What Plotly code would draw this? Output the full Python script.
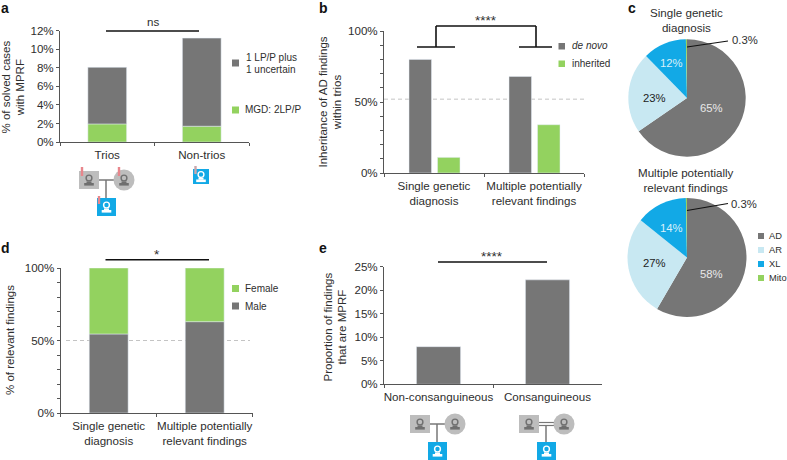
import plotly.graph_objects as go

W, H = 787, 460
GREY = "#767676"
GREEN = "#93d25f"
BLUE = "#12a9e6"
PALE = "#c8e8f2"
ICON = "#bdbdbd"
TXT = "#2e2e2e"
FONT = "Liberation Sans"

# panel a
a_cats = ["Trios", "Non-trios"]
a_mgd = [1.95, 1.7]
a_uncertain = [6.1, 9.5]
# panel b
b_cats = ["Single genetic<br>diagnosis", "Multiple potentially<br>relevant findings"]
b_denovo = [80, 68]
b_inherited = [11, 34]
# panel c
c_labels = ["AD", "AR", "XL", "Mito"]
c_single = [65.4, 22.3, 12.0, 0.3]
c_multiple = [58.4, 27.4, 13.9, 0.3]
c_colors = [GREY, PALE, BLUE, GREEN]
# panel d
d_cats = b_cats
d_male = [54.5, 63]
d_female = [45.5, 37]
# panel e
e_cats = ["Non-consanguineous", "Consanguineous"]
e_mprf = [8, 22.2]


def px(x):
    return x / W


def py(y):
    return 1 - y / H


shapes = []
notes = []


def line(x0, y0, x1, y1, color="#111111", width=1.6):
    shapes.append(dict(type="line", xref="paper", yref="paper", x0=px(x0), y0=py(y0),
                       x1=px(x1), y1=py(y1), line=dict(color=color, width=width)))


def box(x0, y0, x1, y1, color):
    shapes.append(dict(type="rect", xref="paper", yref="paper", x0=px(x0), y0=py(y0),
                       x1=px(x1), y1=py(y1), fillcolor=color, line_width=0))


def disc(cx, cy, r, color):
    shapes.append(dict(type="circle", xref="paper", yref="paper", x0=px(cx - r), y0=py(cy - r),
                       x1=px(cx + r), y1=py(cy + r), fillcolor=color, line_width=0))


def text(x, y, s, size=11.6, color=TXT, anchor="center", **kw):
    notes.append(dict(xref="paper", yref="paper", x=px(x), y=py(y), text=s, showarrow=False,
                      xanchor=anchor, yanchor="middle", font=dict(size=size, color=color, family=FONT), **kw))


def person(cx, cy, color, bg):
    # ring head plus shoulders of the pedigree icons
    disc(cx, cy - 2, 3.6, color)
    disc(cx, cy - 2, 2.2, bg)
    box(cx - 4.8, cy + 3, cx + 4.8, cy + 5.6, color)
    box(cx - 2.5, cy + 1.4, cx + 2.5, cy + 3.2, color)


def father(x0, y0):
    box(x0, y0, x0 + 20, y0 + 18, ICON)
    person(x0 + 10, y0 + 9, "#6f6f6f", ICON)


def mother(cx, cy):
    disc(cx, cy, 10.5, ICON)
    person(cx, cy, "#6f6f6f", ICON)


def child(x0, y0, w=19, h=18):
    box(x0, y0, x0 + w, y0 + h, BLUE)
    person(x0 + w / 2, y0 + h / 2, "white", BLUE)


def flag(x, y0, y1, color="#e8868c"):
    line(x, y0, x, y1, color=color, width=2.4)


fig = go.Figure()

# a: stacked bars
fig.add_trace(go.Bar(x=a_cats, y=a_mgd, marker_color=GREEN, width=0.41, xaxis="x", yaxis="y"))
fig.add_trace(go.Bar(x=a_cats, y=a_uncertain, base=a_mgd, marker_color=GREY, width=0.41, xaxis="x", yaxis="y"))
# b: side by side bars
fig.add_trace(go.Bar(x=b_cats, y=b_denovo, marker_color=GREY, width=0.225, offset=-0.25, xaxis="x2", yaxis="y2"))
fig.add_trace(go.Bar(x=b_cats, y=b_inherited, marker_color=GREEN, width=0.225, offset=0.035, xaxis="x2", yaxis="y2"))
# d: stacked bars
fig.add_trace(go.Bar(x=d_cats, y=d_male, marker_color=GREY, width=0.405, xaxis="x3", yaxis="y3"))
fig.add_trace(go.Bar(x=d_cats, y=d_female, base=d_male, marker_color=GREEN, width=0.405, xaxis="x3", yaxis="y3"))
# e
fig.add_trace(go.Bar(x=e_cats, y=e_mprf, marker_color=GREY, width=0.405, xaxis="x4", yaxis="y4"))
# c: pies
for vals, cy, r in [(c_single, 98, 58.7), (c_multiple, 257.5, 59.5)]:
    fig.add_trace(go.Pie(labels=c_labels, values=vals, sort=False, direction="clockwise", rotation=0,
                         marker=dict(colors=c_colors, line_width=0), textinfo="none",
                         domain=dict(x=[px(687 - r), px(687 + r)], y=[py(cy + r), py(cy - r)])))

axis_line = "#555555"


def xax(x0, x1):
    return dict(domain=[px(x0), px(x1)], type="category", tickson="boundaries", ticks="outside",
                ticklen=3, tickcolor=axis_line, showline=True, linecolor=axis_line, linewidth=1, automargin=False,
                tickangle=0, ticklabelstandoff=2, range=[-0.5, 1.5], showgrid=False,
                tickfont=dict(size=11.6, color=TXT, family=FONT))


def yax(y0, y1, rng, dtick, minor=None):
    d = dict(domain=[py(y0), py(y1)], range=rng, dtick=dtick, ticks="outside", ticklen=3, tickcolor=axis_line,
             showline=True, linecolor=axis_line, linewidth=1, showgrid=False, ticksuffix="%", zeroline=False,
             automargin=False, tickfont=dict(size=11.6, color=TXT, family=FONT))
    if minor:
        d["minor"] = dict(dtick=minor, ticks="outside", ticklen=3, tickcolor=axis_line, showgrid=False)
    return d


layout_axes = dict(
    xaxis=dict(xax(60, 249), anchor="y"),
    yaxis=dict(yax(142, 30.7, [0, 12], 2), anchor="x"),
    xaxis2=dict(xax(384, 584), anchor="y2"),
    yaxis2=dict(yax(173, 31, [0, 100], 50, 10), anchor="x2"),
    xaxis3=dict(xax(60.7, 252.7), anchor="y3"),
    yaxis3=dict(yax(413, 268, [0, 100], 50, 10), anchor="x3"),
    xaxis4=dict(xax(384, 602), anchor="y4"),
    yaxis4=dict(yax(384.3, 266.7, [0, 25], 5), anchor="x4"),
)

# y axis titles
text(12.5, 87, "% of solved cases<br>with MPRF", size=11.5, textangle=-90)
text(329.5, 102, "Inheritance of AD findings<br>within trios", size=11.5, textangle=-90)
text(10, 340, "% of relevant findings", size=11.5, textangle=-90)
text(334.5, 327, "Proportion of findings<br>that are MPRF", size=11.5, textangle=-90)

# dashed reference lines, behind the bars
shapes.append(dict(type="line", xref="paper", yref="y2", x0=px(384), x1=px(587), y0=52, y1=52, layer="below",
                   line=dict(color="#c4c4c4", width=1, dash="4px,3px")))
shapes.append(dict(type="line", xref="paper", yref="y3", x0=px(66), x1=px(250), y0=50, y1=50, layer="below",
                   line=dict(color="#c4c4c4", width=1, dash="4px,3px")))

# panel letters
for s, x, y in [("a", 5, 8), ("b", 323, 8), ("c", 632, 8), ("d", 5, 248), ("e", 323, 248)]:
    text(x, y, "<b>%s</b>" % s, size=14, color="#111111")

# significance marks
line(106, 31, 199, 31)
text(153, 21.5, "ns")
line(436, 26, 536, 26)
line(436, 26, 436, 47)
line(536, 26, 536, 47)
line(417, 47, 455, 47)
line(519, 47, 552, 47)
text(486, 21, "****", size=13.5)
line(105.5, 259.7, 209, 259.7)
text(157, 254, "*", size=13.5)
line(438, 262, 547, 262)
text(492, 256, "****", size=13.5)

# legends
box(232, 59.5, 239, 66.5, GREY)
text(244, 58, "1 LP/P plus", size=10, anchor="left")
text(244, 69, "1 uncertain", size=10, anchor="left")
box(232, 106.5, 239, 113.5, GREEN)
text(243, 110, "MGD: 2LP/P", size=10, anchor="left")
box(558.5, 43, 565, 49.5, GREY)
text(570, 46, "<i>de novo</i>", size=10, anchor="left")
box(558.5, 60.5, 565, 67, GREEN)
text(570, 64, "inherited", size=10, anchor="left")
box(232, 285, 239, 292, GREEN)
text(243, 288.5, "Female", size=10, anchor="left")
box(232, 302.5, 239, 309.5, GREY)
text(243, 306, "Male", size=10, anchor="left")
for name, color, y in zip(c_labels, c_colors, [236, 250, 264, 278]):
    box(758, y - 3, 764, y + 3, color)
    text(766.5, y, name, size=9.3, anchor="left")

# pie titles, slice labels and leader lines
text(686, 20, "Single genetic<br>diagnosis", size=11.6)
text(686, 180, "Multiple potentially<br>relevant findings", size=11.6)
text(711, 108, "65%", size=11.3, color="#e8e8e8")
text(654.5, 98, "23%", size=11.3, color="#222222")
text(671, 63, "12%", size=11.3, color="#d8f0fa")
text(711, 273.5, "58%", size=11.3, color="#e8e8e8")
text(654.5, 263, "27%", size=11.3, color="#222222")
text(671, 228, "14%", size=11.3, color="#d8f0fa")
line(687, 47, 728, 41, width=1.2)
line(687, 210.5, 728, 203.5, width=1.2)
text(745, 40.5, "0.3%", size=11.3)
text(744, 204, "0.3%", size=11.3)

# pedigree icons, panel a
line(98, 180, 114, 180, color="#777777", width=1.5)
line(106, 180, 106, 198, color="#777777", width=1.5)
father(79, 171)
mother(124, 180)
child(97, 198)
flag(82, 167, 176)
flag(119, 167, 176)
flag(99, 196, 204)
child(193, 169, w=16, h=15)
flag(195.5, 166, 174, color="#c9a6ad")

# pedigree icons, panel e
line(430, 424, 445, 424, color="#777777", width=1.5)
line(437, 424, 437, 442, color="#777777", width=1.5)
father(410, 415)
mother(455, 424)
child(428, 442)
line(539, 422.5, 554, 422.5, color="#777777", width=1.2)
line(539, 425.5, 554, 425.5, color="#777777", width=1.2)
line(546, 425, 546, 442, color="#777777", width=1.5)
father(519, 415)
mother(564, 424)
child(537, 442)

fig.update_layout(
    width=W, height=H, margin=dict(l=0, r=0, t=0, b=0), paper_bgcolor="white", plot_bgcolor="white",
    barmode="overlay", showlegend=False, shapes=shapes, annotations=notes,
    font=dict(family=FONT, color=TXT), **layout_axes,
)
fig.write_html("out.html", post_script="document.body.style.margin='0';", config=dict(displayModeBar=False))
